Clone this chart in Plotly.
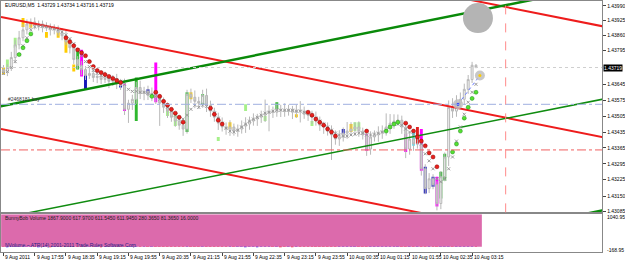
import plotly.graph_objects as go

# ---------------- data (EURUSD M5, prices) ----------------
close = [1.43701, 1.43719, 1.43763, 1.43819, 1.43850, 1.43885, 1.43911, 1.43920, 1.43902, 1.43911,
         1.43894, 1.43898, 1.43885, 1.43889, 1.43872, 1.43859, 1.43832, 1.43806, 1.43754, 1.43728,
         1.43710, 1.43684, 1.43693, 1.43675, 1.43680, 1.43666, 1.43671, 1.43658, 1.43666, 1.43649,
         1.43640, 1.43535, 1.43562, 1.43579, 1.43631, 1.43605, 1.43614, 1.43596, 1.43601, 1.43588,
         1.43562, 1.43544, 1.43527, 1.43500, 1.43483, 1.43465, 1.43448, 1.43601, 1.43588, 1.43570,
         1.43562, 1.43596, 1.43553, 1.43527, 1.43500, 1.43474, 1.43457, 1.43448, 1.43457, 1.43439,
         1.43448, 1.43461, 1.43470, 1.43483, 1.43492, 1.43500, 1.43509, 1.43518, 1.43527, 1.43522,
         1.43535, 1.43531, 1.43527, 1.43535, 1.43522, 1.43531, 1.43527, 1.43513, 1.43509, 1.43500,
         1.43483, 1.43465, 1.43457, 1.43439, 1.43422, 1.43404, 1.43413, 1.43430, 1.43439, 1.43448,
         1.43457, 1.43439, 1.43422, 1.43360, 1.43413, 1.43422, 1.43430, 1.43439, 1.43457, 1.43474,
         1.43483, 1.43487, 1.43457, 1.43360, 1.43404, 1.43382, 1.43382, 1.43273, 1.43186, 1.43229,
         1.43203, 1.43120, 1.43238, 1.43325, 1.43544, 1.43527, 1.43562, 1.43579, 1.43623, 1.43666,
         1.43729, 1.43719]
first_open = 1.43710
# wick lengths in points (0.00001)
wick_up = [20, 15, 25, 20, 30, 25, 20, 15, 20, 15,
           15, 20, 15, 20, 15, 20, 25, 15, 20, 15,
           20, 15, 25, 20, 15, 20, 30, 15, 20, 25,
           20, 30, 15, 20, 25, 30, 20, 25, 30, 20,
           15, 25, 20, 15, 20, 25, 15, 20, 25, 30,
           20, 25, 30, 20, 15, 20, 25, 20, 30, 15,
           20, 25, 30, 20, 25, 15, 20, 60, 25, 20,
           25, 20, 30, 20, 15, 25, 40, 20, 15, 20,
           25, 20, 15, 20, 25, 20, 30, 25, 40, 30,
           20, 25, 15, 20, 25, 20, 30, 25, 60, 40,
           30, 25, 20, 15, 30, 20, 25, 15, 20, 25,
           20, 15, 25, 20, 30, 40, 35, 30, 25, 20,
           15, 5]
wick_dn = [15, 20, 15, 25, 20, 15, 20, 25, 15, 20,
           20, 15, 25, 20, 15, 20, 15, 25, 20, 15,
           25, 20, 15, 20, 25, 20, 15, 30, 20, 25,
           20, 25, 60, 30, 20, 25, 30, 20, 25, 30,
           100, 25, 30, 20, 25, 20, 30, 20, 25, 30,
           25, 20, 30, 25, 20, 30, 20, 25, 30, 20,
           25, 20, 30, 25, 20, 30, 25, 30, 80, 25,
           20, 30, 25, 20, 30, 25, 50, 20, 25, 30,
           20, 25, 30, 20, 110, 25, 30, 20, 25, 20,
           30, 25, 20, 30, 25, 20, 30, 25, 20, 30,
           25, 20, 30, 40, 25, 30, 20, 30, 25, 20,
           20, 30, 25, 20, 40, 30, 25, 20, 25, 20,
           15, 3]
ma = [1.43693, 1.43701, 1.43719, 1.43745, 1.43776, 1.43815, 1.43850, 1.43885, 1.43898, 1.43902,
      1.43902, 1.43898, 1.43894, 1.43889, 1.43885, 1.43876, 1.43863, 1.43846, 1.43824, 1.43797,
      1.43771, 1.43745, 1.43723, 1.43706, 1.43693, 1.43684, 1.43680, 1.43675, 1.43671, 1.43666,
      1.43658, 1.43645, 1.43623, 1.43614, 1.43614, 1.43610, 1.43610, 1.43605, 1.43601, 1.43592,
      1.43579, 1.43562, 1.43544, 1.43527, 1.43509, 1.43492, 1.43492, 1.43509, 1.43535, 1.43553,
      1.43544, 1.43553, 1.43548, 1.43535, 1.43518, 1.43496, 1.43474, 1.43452, 1.43439, 1.43435,
      1.43443, 1.43457, 1.43470, 1.43483, 1.43492, 1.43500, 1.43509, 1.43518, 1.43522, 1.43527,
      1.43531, 1.43531, 1.43531, 1.43531, 1.43531, 1.43527, 1.43527, 1.43522, 1.43518, 1.43509,
      1.43496, 1.43483, 1.43470, 1.43457, 1.43443, 1.43430, 1.43422, 1.43417, 1.43417, 1.43422,
      1.43426, 1.43430, 1.43430, 1.43422, 1.43422, 1.43426, 1.43430, 1.43435, 1.43443, 1.43457,
      1.43470, 1.43470, 1.43465, 1.43448, 1.43435, 1.43422, 1.43413, 1.43382, 1.43339, 1.43308,
      1.43273, 1.43229, 1.43216, 1.43229, 1.43273, 1.43325, 1.43395, 1.43457, 1.43513, 1.43566,
      1.43610, 1.43645]

sar_red_bar = [16, 17, 18, 19, 20, 21, 22, 23, 24, 25, 26, 27, 28, 29, 30,
               39, 40, 41, 42, 43, 44, 45, 46,
               53, 54, 55, 56,
               78, 79, 80, 81, 82, 83, 84, 85,
               93,
               103, 104, 105, 106, 107, 108, 109, 110, 111]
sar_red = [1.43850, 1.43832, 1.43815, 1.43797, 1.43784, 1.43771, 1.43745, 1.43723, 1.43706, 1.43697,
           1.43688, 1.43680, 1.43671, 1.43662, 1.43653,
           1.43610, 1.43592, 1.43570, 1.43553, 1.43535, 1.43518, 1.43500, 1.43478,
           1.43540, 1.43513, 1.43487, 1.43470,
           1.43522, 1.43509, 1.43492, 1.43478, 1.43465, 1.43448, 1.43435, 1.43417,
           1.43439,
           1.43474, 1.43457, 1.43439, 1.43413, 1.43395, 1.43374, 1.43343, 1.43325, 1.43282]
sar_green_bar = [4, 5, 6, 7, 38, 98, 99, 100, 101, 115, 116, 117, 118, 119, 120, 121]
sar_green = [1.43776, 1.43806, 1.43837, 1.43867, 1.43592, 1.43439, 1.43457, 1.43470, 1.43478,
             1.43347, 1.43382, 1.43439, 1.43496, 1.43544, 1.43583, 1.43610]

# coloured signal bodies: bar, top price, bottom price, kind
hl_bar = [0, 1, 3, 5, 7, 11, 14, 16, 18, 19, 20, 21, 30, 31, 34, 37, 39, 42, 44, 47, 48, 51,
          55, 58, 62, 67, 70, 75, 79, 87, 89, 90, 91, 93, 103, 105, 106, 107, 108, 110, 111, 112, 113]
hl_top = [1.43719, 1.43754, 1.43850, 1.43937, 1.43920, 1.43876, 1.43876, 1.43854, 1.43732, 1.43797,
          1.43797, 1.43688, 1.43653, 1.43645, 1.43675, 1.43623, 1.43741, 1.43535, 1.43513, 1.43610,
          1.43610, 1.43601, 1.43413, 1.43478, 1.43557, 1.43505, 1.43566, 1.43513, 1.43483, 1.43448,
          1.43470, 1.43478, 1.43478, 1.43426, 1.43426, 1.43439, 1.43457, 1.43448, 1.43282, 1.43238,
          1.43238, 1.43260, 1.43339]
hl_bot = [1.43688, 1.43710, 1.43806, 1.43898, 1.43894, 1.43850, 1.43850, 1.43784, 1.43701, 1.43710,
          1.43680, 1.43623, 1.43631, 1.43527, 1.43483, 1.43605, 1.43566, 1.43505, 1.43461, 1.43435,
          1.43579, 1.43557, 1.43395, 1.43448, 1.43527, 1.43483, 1.43535, 1.43500, 1.43461, 1.43426,
          1.43435, 1.43439, 1.43448, 1.43352, 1.43347, 1.43374, 1.43382, 1.43264, 1.43164, 1.43194,
          1.43107, 1.43142, 1.43221]
hl_kind = ["yellow", "lime", "lime", "yellow", "yellow", "yellow", "yellow", "yellow", "yellow", "green",
           "magenta", "blue", "blue", "magenta", "green", "blue", "magenta", "lime", "lime", "green",
           "yellow", "green", "lime", "yellow", "lime", "lime", "green", "yellow", "lime", "blue",
           "yellow", "lime", "lime", "magenta", "magenta", "cyan", "red", "magenta", "blue", "blue",
           "magenta", "green", "green"]

vol = [80, 60, 120, 140, 100, 90, 110, 70, 80, 60, 70, 90, 60, 80, 70, 90, 100, 80, 120, 110,
       100, 130, 90, 80, 70, 60, 80, 70, 90, 80, 100, 140, 150, 120, 130, 90, 100, 80, 90, 110,
       130, 90, 80, 100, 90, 110, 120, 140, 100, 80, 90, 110, 80, 90, 100, 120, 90, 80, 70, 90,
       80, 70, 60, 80, 70, 60, 90, 110, 120, 80, 70, 60, 80, 70, 60, 70, 90, 80, 70, 90,
       100, 110, 90, 100, 140, 120, 90, 80, 100, 90, 80, 70, 90, 150, 110, 90, 80, 90, 120, 100,
       90, 110, 120, 150, 140, 130, 180, 200, 190, 170, 160, 220, 180, 200, 300, 210, 200, 230, 220, 240,
       230, 180]

tick_bars = [0, 8, 16, 24, 32, 40, 48, 56, 64, 72, 80, 88, 96, 104, 112, 120]
tick_labels = ["9 Aug 2011", "9 Aug 17:55", "9 Aug 18:35", "9 Aug 19:15", "9 Aug 19:55", "9 Aug 20:35",
               "9 Aug 21:15", "9 Aug 21:55", "9 Aug 22:35", "9 Aug 23:15", "9 Aug 23:55", "10 Aug 00:35",
               "10 Aug 01:15", "10 Aug 01:55", "10 Aug 02:35", "10 Aug 03:15"]
price_ticks = [1.43990, 1.43925, 1.43860, 1.43795, 1.43645, 1.43575, 1.43505, 1.43435,
               1.43365, 1.43295, 1.43225, 1.43150, 1.43085]

# trend lines: (bar0, price0, bar1, price1)
green_lines = [(-1.91, 1.43544, 138.0, 1.44026), (149.5, 1.43076, 157.1, 1.43103)]
green_thin = [(-0.64, 1.43055, 157.1, 1.43592)]
red_lines = [(-0.64, 1.43942, 157.1, 1.43400), (-0.64, 1.43448, 108.8, 1.43072),
             (117.2, 1.44025, 157.1, 1.43888)]

order_bar, order_price = 116.4, 1.43557
stop_price = 1.43356
now_bar, now_price = 122.0, 1.43684
marker_bar, marker_price = 121.5, 1.43937
vline_bar = 128.6
sub_min, sub_max = -168.95, 1040.95

# ---------------- figure ----------------
colors = {"yellow": "#ffcc00", "lime": "#a6f08a", "green": "#2fb82f", "magenta": "#ff00ff",
          "blue": "#1414b8", "cyan": "#55eeff", "red": "#e02020"}
n = len(close)
bars = list(range(n))
open_ = [first_open] + close[:-1]
high = [max(o, c) + u * 1e-5 for o, c, u in zip(open_, close, wick_up)]
low = [min(o, c) - d * 1e-5 for o, c, d in zip(open_, close, wick_dn)]

fig = go.Figure()

# sub-window indicator background band
fig.add_trace(go.Scatter(x=[-0.6, n + 0.5], y=[sub_max, sub_max], mode="lines", line=dict(width=0),
                         fill="tozeroy", fillcolor="#dc6aac", xaxis="x2", yaxis="y2", hoverinfo="skip"))
fig.add_trace(go.Bar(x=bars, y=vol, width=0.5, xaxis="x2", yaxis="y2",
                     marker=dict(color=["#1a1aff" if c >= o else "#ff2020" for o, c in zip(open_, close)],
                                 line=dict(width=0))))

fig.add_trace(go.Candlestick(x=bars, open=open_, high=high, low=low, close=close,
                             increasing=dict(line=dict(color="#b8b8b8", width=1), fillcolor="#f2f2f2"),
                             decreasing=dict(line=dict(color="#b8b8b8", width=1), fillcolor="#cfcfcf"),
                             whiskerwidth=0, hoverinfo="skip"))

fig.add_trace(go.Bar(x=hl_bar, y=[t - b for t, b in zip(hl_top, hl_bot)], base=hl_bot, width=0.75,
                     marker=dict(color=[colors[k] for k in hl_kind], line=dict(width=0)),
                     hoverinfo="skip"))

for (x0, p0, x1, p1) in red_lines:
    fig.add_trace(go.Scatter(x=[x0, x1], y=[p0, p1], mode="lines",
                             line=dict(color="#ee1c1c", width=2), hoverinfo="skip"))
for (x0, p0, x1, p1) in green_lines:
    fig.add_trace(go.Scatter(x=[x0, x1], y=[p0, p1], mode="lines",
                             line=dict(color="#0a8a0a", width=2.5), hoverinfo="skip"))
for (x0, p0, x1, p1) in green_thin:
    fig.add_trace(go.Scatter(x=[x0, x1], y=[p0, p1], mode="lines",
                             line=dict(color="#108c10", width=1.5), hoverinfo="skip"))

fig.add_trace(go.Scatter(x=bars, y=ma, mode="markers",
                         marker=dict(symbol="x-thin", size=3, line=dict(width=1, color="#9a9a9a")),
                         hoverinfo="skip"))
fig.add_trace(go.Scatter(x=sar_red_bar, y=sar_red, mode="markers",
                         marker=dict(size=4, color="#e8201c", line=dict(width=0.5, color="#8a0000")),
                         hoverinfo="skip"))
fig.add_trace(go.Scatter(x=sar_green_bar, y=sar_green, mode="markers",
                         marker=dict(size=4, color="#55e030", line=dict(width=0.5, color="#1d8a1d")),
                         hoverinfo="skip"))

# order markers
fig.add_trace(go.Scatter(x=[order_bar, now_bar], y=[order_price, now_price], mode="lines",
                         line=dict(color="#6a7cff", width=1, dash="dot"), hoverinfo="skip"))
fig.add_trace(go.Scatter(x=[marker_bar], y=[marker_price], mode="markers",
                         marker=dict(size=30, color="#b4b4b4", line=dict(width=0)), hoverinfo="skip"))
fig.add_trace(go.Scatter(x=[order_bar, now_bar], y=[order_price, now_price], mode="markers",
                         marker=dict(size=10, color="rgba(190,190,190,0.85)", line=dict(width=0)),
                         hoverinfo="skip"))
fig.add_trace(go.Scatter(x=[order_bar, now_bar], y=[order_price, now_price], mode="markers",
                         marker=dict(size=3, color=["#2030ff", "#ffcc00"]), hoverinfo="skip"))

XR = [-0.636, 153.3]
fig.update_layout(
    width=625, height=264, margin=dict(l=0, r=0, t=0, b=0),
    paper_bgcolor="white", plot_bgcolor="white", showlegend=False,
    barmode="overlay", font=dict(family="Liberation Sans", size=5, color="black"),
    xaxis=dict(domain=[0, 0.968], range=XR, anchor="y", showticklabels=False, showgrid=False,
               zeroline=False, showline=True, mirror=True, linecolor="#888888", linewidth=1,
               rangeslider=dict(visible=False)),
    yaxis=dict(domain=[0.1894, 0.9962], range=[1.43081, 1.44012], side="right", anchor="x",
               tickvals=price_ticks, ticktext=[f"{v:.5f}" for v in price_ticks],
               ticks="outside", ticklen=3, tickcolor="#444444", tickfont=dict(size=5),
               showgrid=False, zeroline=False, showline=True, mirror=True, linecolor="#888888"),
    xaxis2=dict(domain=[0, 0.968], range=XR, anchor="y2", matches="x", showticklabels=False,
                tickvals=tick_bars, ticks="outside", ticklen=3, tickcolor="#444444",
                showgrid=False, zeroline=False, showline=True, mirror=True, linecolor="#888888"),
    yaxis2=dict(domain=[0.038, 0.182], range=[sub_min, sub_max], side="right", anchor="x2",
                showticklabels=False, ticks="", showgrid=False, zeroline=False,
                showline=True, mirror=True, linecolor="#888888"),
)

shapes = [
    dict(type="line", xref="paper", x0=0, x1=0.968, yref="y", y0=close[-1], y1=close[-1],
         line=dict(color="#cfcfcf", width=1, dash="dot")),
    dict(type="line", xref="paper", x0=0, x1=0.968, yref="y", y0=order_price, y1=order_price,
         line=dict(color="#9fb0e0", width=1, dash="dashdot")),
    dict(type="line", xref="paper", x0=0, x1=0.968, yref="y", y0=stop_price, y1=stop_price,
         line=dict(color="#f06060", width=1, dash="dashdot")),
    dict(type="line", xref="x", x0=vline_bar, x1=vline_bar, yref="y domain", y0=0, y1=1,
         line=dict(color="#ff8a8a", width=1, dash="dash")),
]
fig.update_layout(shapes=shapes)

ann = [
    dict(text="EURUSD,M5  1.43729 1.43734 1.43716 1.43719", x=0.004, y=0.981, xref="paper", yref="paper",
         xanchor="left", yanchor="middle", showarrow=False, font=dict(size=5)),
    dict(text="#2468181 buy", x=0.008, y=order_price, xref="paper", yref="y", xanchor="left",
         yanchor="bottom", showarrow=False, font=dict(size=5, color="#333333")),
    dict(text=f"{close[-1]:.5f}", x=0.9695, y=close[-1], xref="paper", yref="y", xanchor="left",
         yanchor="middle", showarrow=False, bgcolor="black", font=dict(size=5, color="white"), borderpad=0),
    dict(text="BunnyBob Volume 1867.9000 617.9700 611.5450 611.9450 280.3650 81.3650 16.0000",
         x=0.004, y=0.1667, xref="paper", yref="paper", xanchor="left", yanchor="middle",
         showarrow=False, font=dict(size=5, color="#222222")),
    dict(text="NVolume ~ ATR(14) 2001-2011 Trade Rules Software Corp", x=0.004, y=0.066,
         xref="paper", yref="paper", xanchor="left", yanchor="middle", showarrow=False,
         font=dict(size=5, color="#222288")),
    dict(text=f"{sub_max:.2f}", x=0.972, y=0.1705, xref="paper", yref="paper", xanchor="left",
         yanchor="middle", showarrow=False, font=dict(size=5)),
    dict(text=f"{sub_min:.2f}", x=0.972, y=0.045, xref="paper", yref="paper", xanchor="left",
         yanchor="middle", showarrow=False, font=dict(size=5)),
]
for b, t in zip(tick_bars, tick_labels):
    ann.append(dict(text=t, x=b, xref="x2", y=0.018, yref="paper", xanchor="left", yanchor="middle",
                    showarrow=False, font=dict(size=5)))
fig.update_layout(annotations=ann)

fig.write_html("out.html")
